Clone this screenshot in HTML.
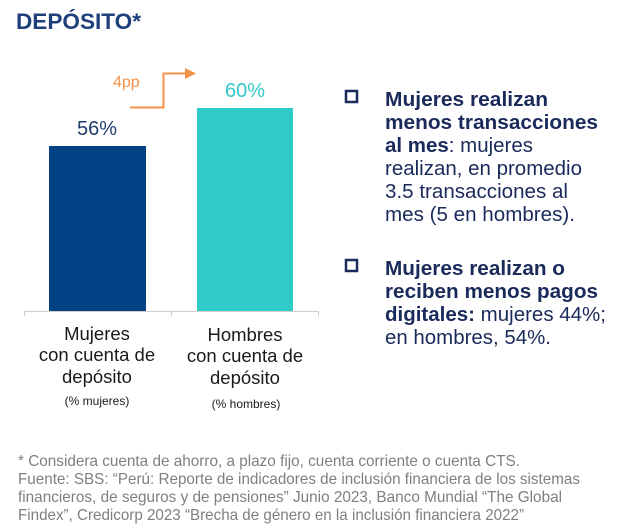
<!DOCTYPE html>
<html><head><meta charset="utf-8"><style>
html,body{margin:0;padding:0;background:#fff;}
svg{display:block;font-family:"Liberation Sans",Arial,sans-serif;}
</style></head><body>
<svg width="620" height="530" viewBox="0 0 620 530" xmlns="http://www.w3.org/2000/svg">
<text x="16" y="29" font-size="22" font-weight="bold" fill="#1f3f7a" textLength="125" lengthAdjust="spacingAndGlyphs">DEPÓSITO*</text>
<rect x="49" y="146" width="97" height="165" fill="#004283"/>
<rect x="197" y="108" width="96" height="203" fill="#2ecbc8"/>
<line x1="24" y1="311.5" x2="318" y2="311.5" stroke="#d0d0d0" stroke-width="1"/>
<line x1="24.5" y1="311" x2="24.5" y2="316" stroke="#d0d0d0"/>
<line x1="171.5" y1="311" x2="171.5" y2="316" stroke="#d0d0d0"/>
<line x1="318.5" y1="311" x2="318.5" y2="316" stroke="#d0d0d0"/>
<text x="97" y="135" font-size="20" fill="#1f3e6e" text-anchor="middle">56%</text>
<text x="245" y="97" font-size="20" fill="#33c9c9" text-anchor="middle">60%</text>
<polyline points="130,107.5 163.5,107.5 163.5,73.5 187,73.5" fill="none" stroke="#f4924a" stroke-width="2"/>
<polygon points="185,68 196,73.5 185,79" fill="#f4924a"/>
<text x="113" y="87" font-size="16" fill="#f4924a">4pp</text>
<g font-size="18.5" fill="#1a1a1a" text-anchor="middle">
<text x="97" y="340">Mujeres</text>
<text x="97" y="361">con cuenta de</text>
<text x="97" y="383">depósito</text>
<text x="245" y="341">Hombres</text>
<text x="245" y="362">con cuenta de</text>
<text x="245" y="384">depósito</text>
</g>
<text x="97" y="405" font-size="12" fill="#1a1a1a" text-anchor="middle">(% mujeres)</text>
<text x="246" y="408" font-size="12" fill="#1a1a1a" text-anchor="middle">(% hombres)</text>
<rect x="346" y="91" width="11" height="11" fill="none" stroke="#1a2a5a" stroke-width="2.5"/>
<rect x="346" y="260" width="11" height="11" fill="none" stroke="#1a2a5a" stroke-width="2.5"/>
<g font-size="20" fill="#1a2a5a">
<text x="385" y="106" font-weight="bold" textLength="163" lengthAdjust="spacingAndGlyphs">Mujeres realizan</text>
<text x="385" y="129" font-weight="bold" textLength="213" lengthAdjust="spacingAndGlyphs">menos transacciones</text>
<text x="385" y="152" textLength="148" lengthAdjust="spacingAndGlyphs"><tspan font-weight="bold">al mes</tspan>: mujeres</text>
<text x="385" y="175" textLength="197" lengthAdjust="spacingAndGlyphs">realizan, en promedio</text>
<text x="385" y="198" textLength="183" lengthAdjust="spacingAndGlyphs">3.5 transacciones al</text>
<text x="385" y="221" textLength="190" lengthAdjust="spacingAndGlyphs">mes (5 en hombres).</text>
<text x="385" y="275" font-weight="bold" textLength="180" lengthAdjust="spacingAndGlyphs">Mujeres realizan o</text>
<text x="385" y="298" font-weight="bold" textLength="213" lengthAdjust="spacingAndGlyphs">reciben menos pagos</text>
<text x="385" y="321" textLength="221" lengthAdjust="spacingAndGlyphs"><tspan font-weight="bold">digitales:</tspan> mujeres 44%;</text>
<text x="385" y="344" textLength="166" lengthAdjust="spacingAndGlyphs">en hombres, 54%.</text>
</g>
<g font-size="16" fill="#7f7f7f">
<text x="18" y="466" textLength="502" lengthAdjust="spacingAndGlyphs">* Considera cuenta de ahorro, a plazo fijo, cuenta corriente o cuenta CTS.</text>
<text x="18" y="484" textLength="562" lengthAdjust="spacingAndGlyphs">Fuente: SBS: “Perú: Reporte de indicadores de inclusión financiera de los sistemas</text>
<text x="18" y="502" textLength="544" lengthAdjust="spacingAndGlyphs">financieros, de seguros y de pensiones” Junio 2023, Banco Mundial “The Global</text>
<text x="18" y="520" textLength="506" lengthAdjust="spacingAndGlyphs">Findex”, Credicorp 2023 “Brecha de género en la inclusión financiera 2022”</text>
</g>
</svg>
</body></html>
